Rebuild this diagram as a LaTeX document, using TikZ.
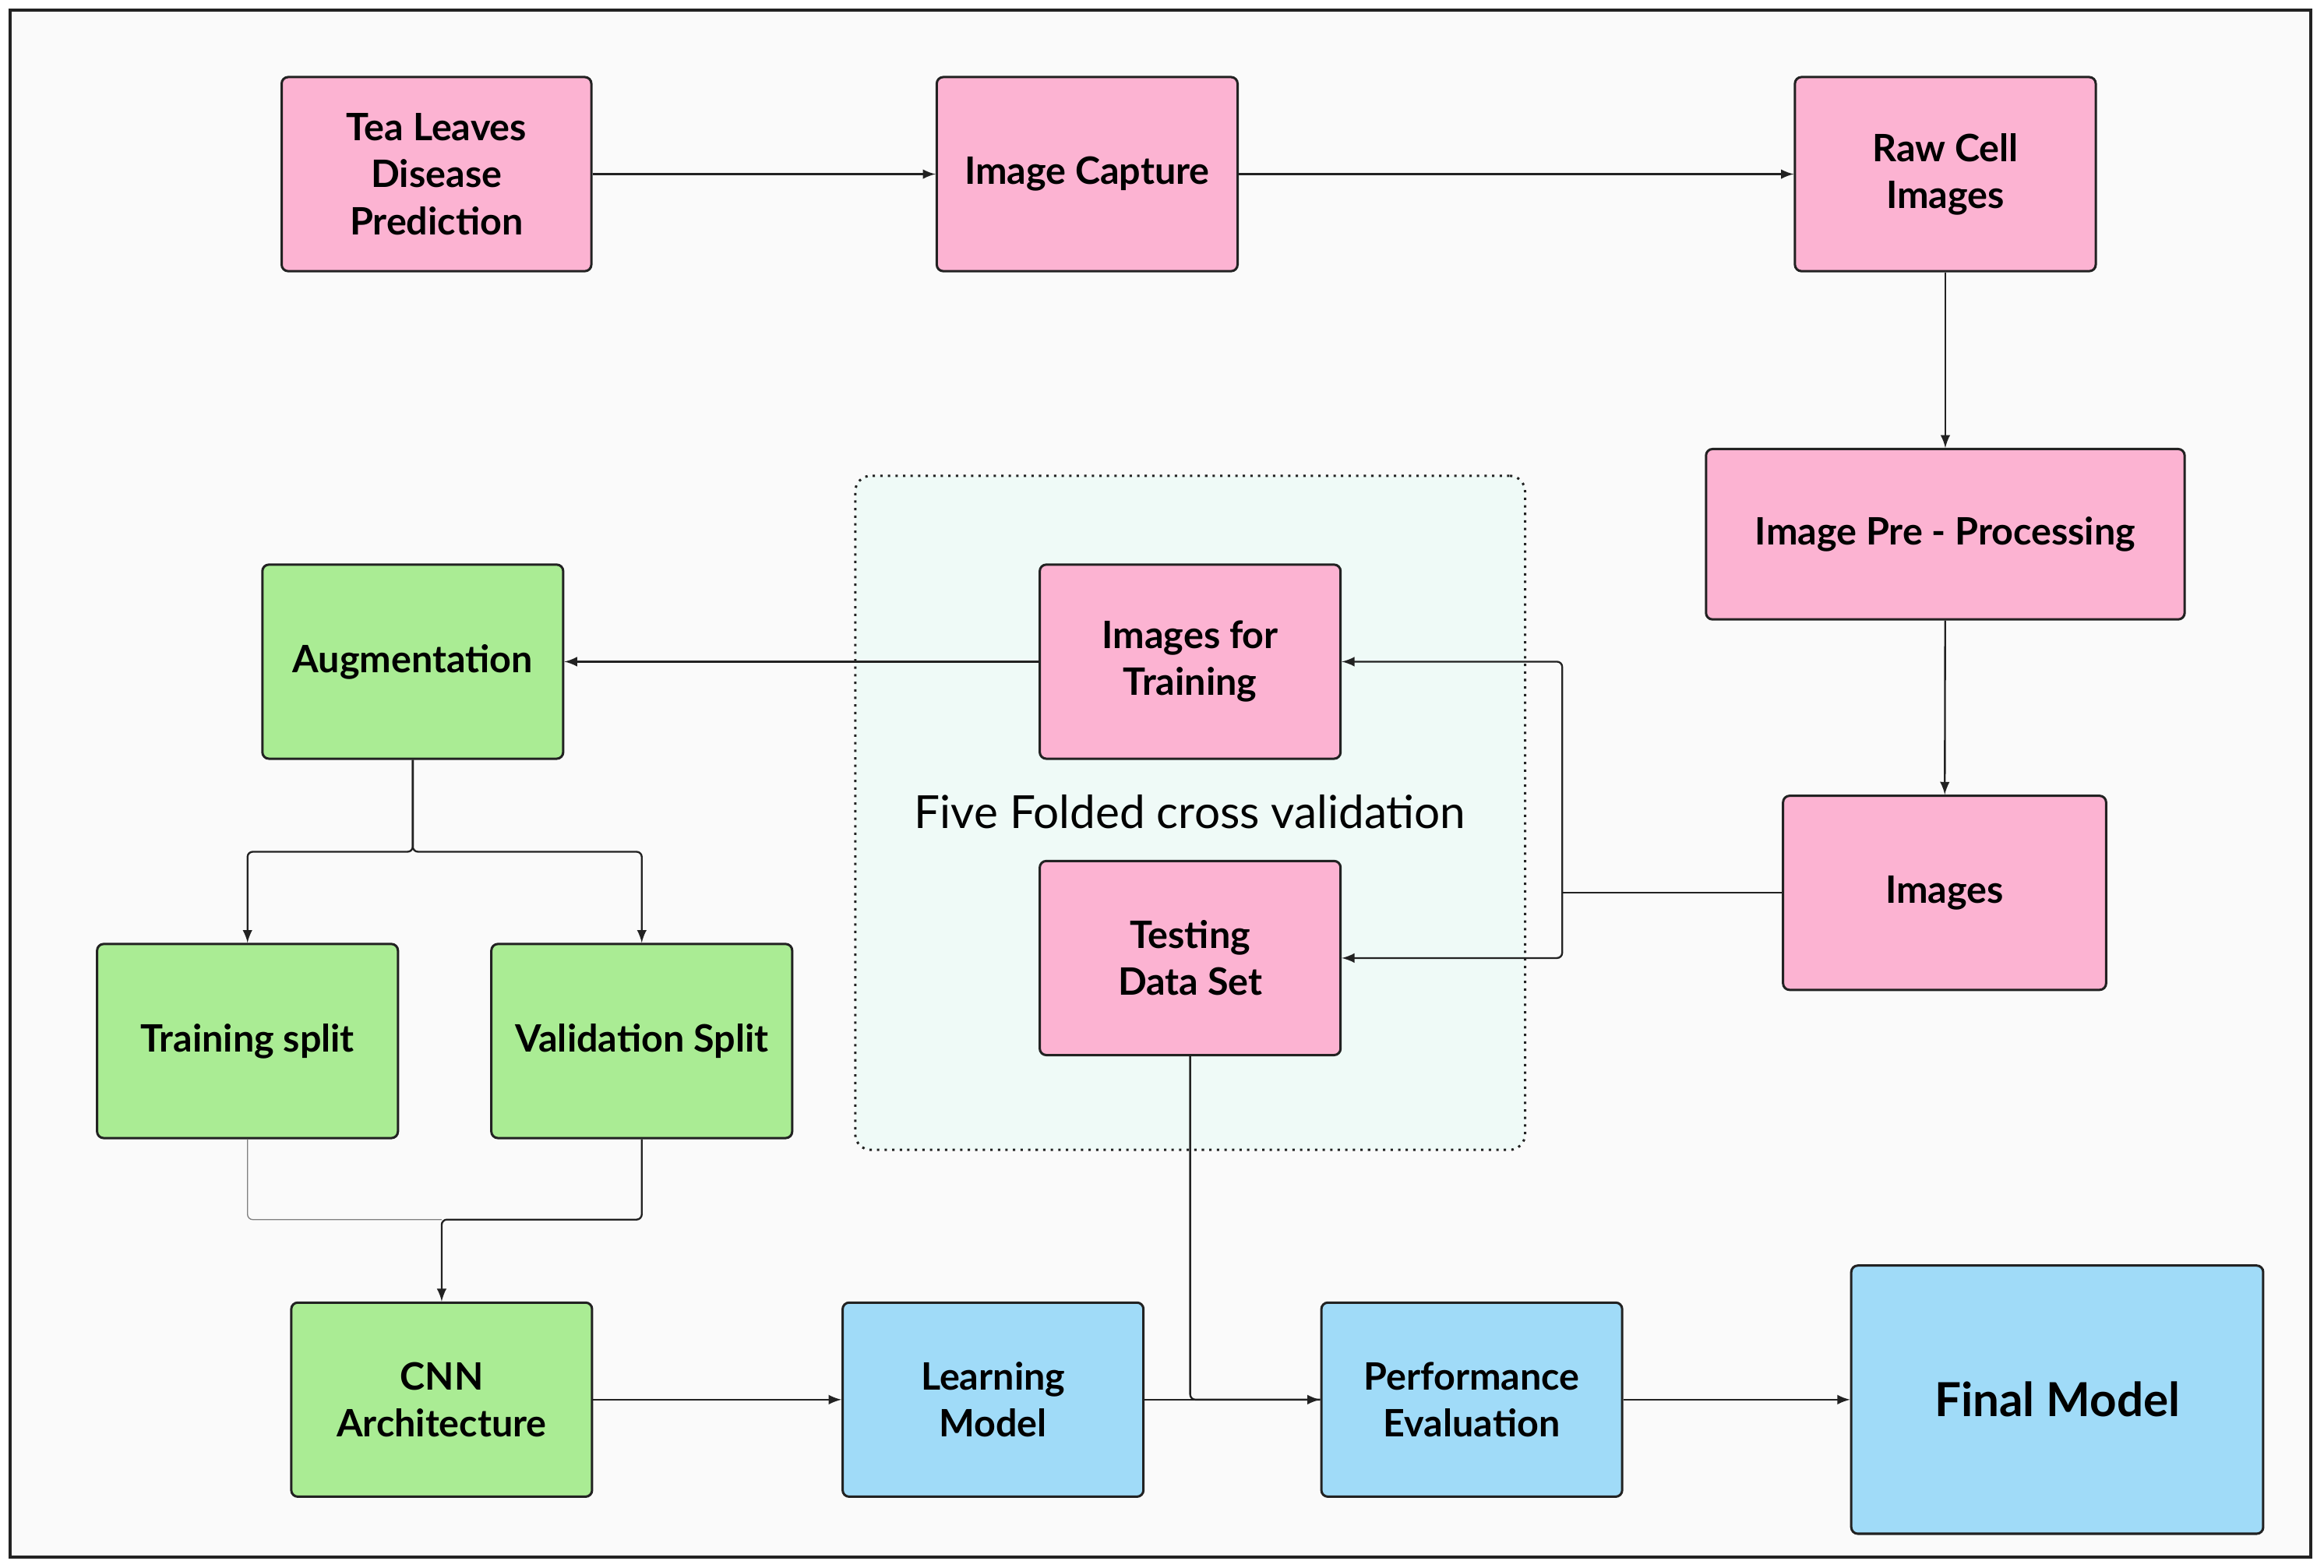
\documentclass[tikz,border=0pt]{standalone}
\usepackage{fontspec}
\setmainfont{Lato}
\usetikzlibrary{arrows}
\usetikzlibrary{positioning}
\definecolor{pinkbox}{RGB}{252,179,210}
\definecolor{greenbox}{RGB}{170,236,148}
\definecolor{bluebox}{RGB}{160,219,248}
\definecolor{mintbg}{RGB}{239,250,247}
\definecolor{pagebg}{RGB}{250,250,250}
\definecolor{linegray}{RGB}{34,34,34}
\tikzset{
  stage/.style={draw=linegray, line width=0.9pt, rounded corners=2.5pt, align=center,
    font=\fontsize{14.5}{18}\selectfont\bfseries, minimum width=4.06cm, minimum height=2.62cm, inner sep=2pt},
  pinkstage/.style={stage, fill=pinkbox},
  greenstage/.style={stage, fill=greenbox},
  bluestage/.style={stage, fill=bluebox},
  flow/.style={-latex, draw=linegray, line width=0.7pt, rounded corners=2pt},
  link/.style={draw=linegray, line width=0.7pt, rounded corners=2pt},
}
\begin{document}
\begin{tikzpicture}[x=0.02cm, y=-0.02cm]
  \fill[white] (0,0) rectangle (1568,1058);
  \useasboundingbox (0,0) rectangle (1568,1058);
  \draw[fill=pagebg, draw=linegray, line width=1.2pt] (7,7) rectangle (1559,1051);

  % cross validation area
  \node[draw=linegray, dotted, line width=0.9pt, fill=mintbg, rounded corners=6pt,
    minimum width=9.04cm, minimum height=9.1cm] (cv) at (803,548.5) {};
  \node[font=\fontsize{17.5}{20}\selectfont] (cvlabel) at (803,548) {Five Folded cross validation};

  % top row
  \node[pinkstage, minimum width=4.18cm] (tea) at (294.5,117.5) {Tea Leaves\\Disease\\Prediction};
  \node[pinkstage] (capture) at (733.5,117.5) {Image Capture};
  \node[pinkstage] (raw) at (1312.5,117.5) {Raw Cell\\Images};
  \node[pinkstage, minimum width=6.46cm, minimum height=2.3cm] (prep) at (1312.5,360.5) {Image Pre - Processing};
  \node[pinkstage, minimum width=4.36cm] (imgs) at (1312,602.5) {Images};

  % folds
  \node[pinkstage] (train) at (803,446.5) {Images for\\Training};
  \node[pinkstage] (test) at (803,646.5) {Testing\\Data Set};

  % augmentation branch
  \node[greenstage] (aug) at (278.5,446.5) {Augmentation};
  \node[greenstage] (tsplit) at (167,702.5) {Training split};
  \node[greenstage] (vsplit) at (433,702.5) {Validation Split};
  \node[greenstage] (cnn) at (298,944.5) {CNN\\Architecture};

  % bottom row
  \node[bluestage] (learn) at (670,944.5) {Learning\\Model};
  \node[bluestage] (perf) at (993,944.5) {Performance\\Evaluation};
  \node[bluestage, minimum width=5.56cm, minimum height=3.62cm,
    font=\fontsize{18}{22}\selectfont\bfseries] (final) at (1388,944.5) {Final Model};

  \coordinate (fork) at (1054,602.5);
  \coordinate (merge) at (298,823);

  \draw[flow] (tea) -- (capture);
  \draw[flow] (capture) -- (raw);
  \draw[flow] (raw) -- (prep);
  \draw[flow] (prep) -- (imgs);
  \draw[link] (imgs.west) -- (fork);
  \draw[flow] (fork) |- (train.east);
  \draw[flow] (fork) |- (test.east);
  \draw[flow] (train) -- (aug);
  \draw[flow] (aug.south) -- ++(0,62) -| (tsplit.north);
  \draw[flow] (aug.south) -- ++(0,62) -| (vsplit.north);
  \draw[draw=gray, line width=0.4pt, rounded corners=2pt] (tsplit.south) |- (merge);
  \draw[flow] (vsplit.south) |- (merge) -- (cnn.north);
  \draw[flow] (cnn) -- (learn);
  \draw[link] (test.south) |- (perf.west);
  \draw[flow] (learn) -- (perf);
  \draw[flow] (perf) -- (final);
\end{tikzpicture}
\end{document}
